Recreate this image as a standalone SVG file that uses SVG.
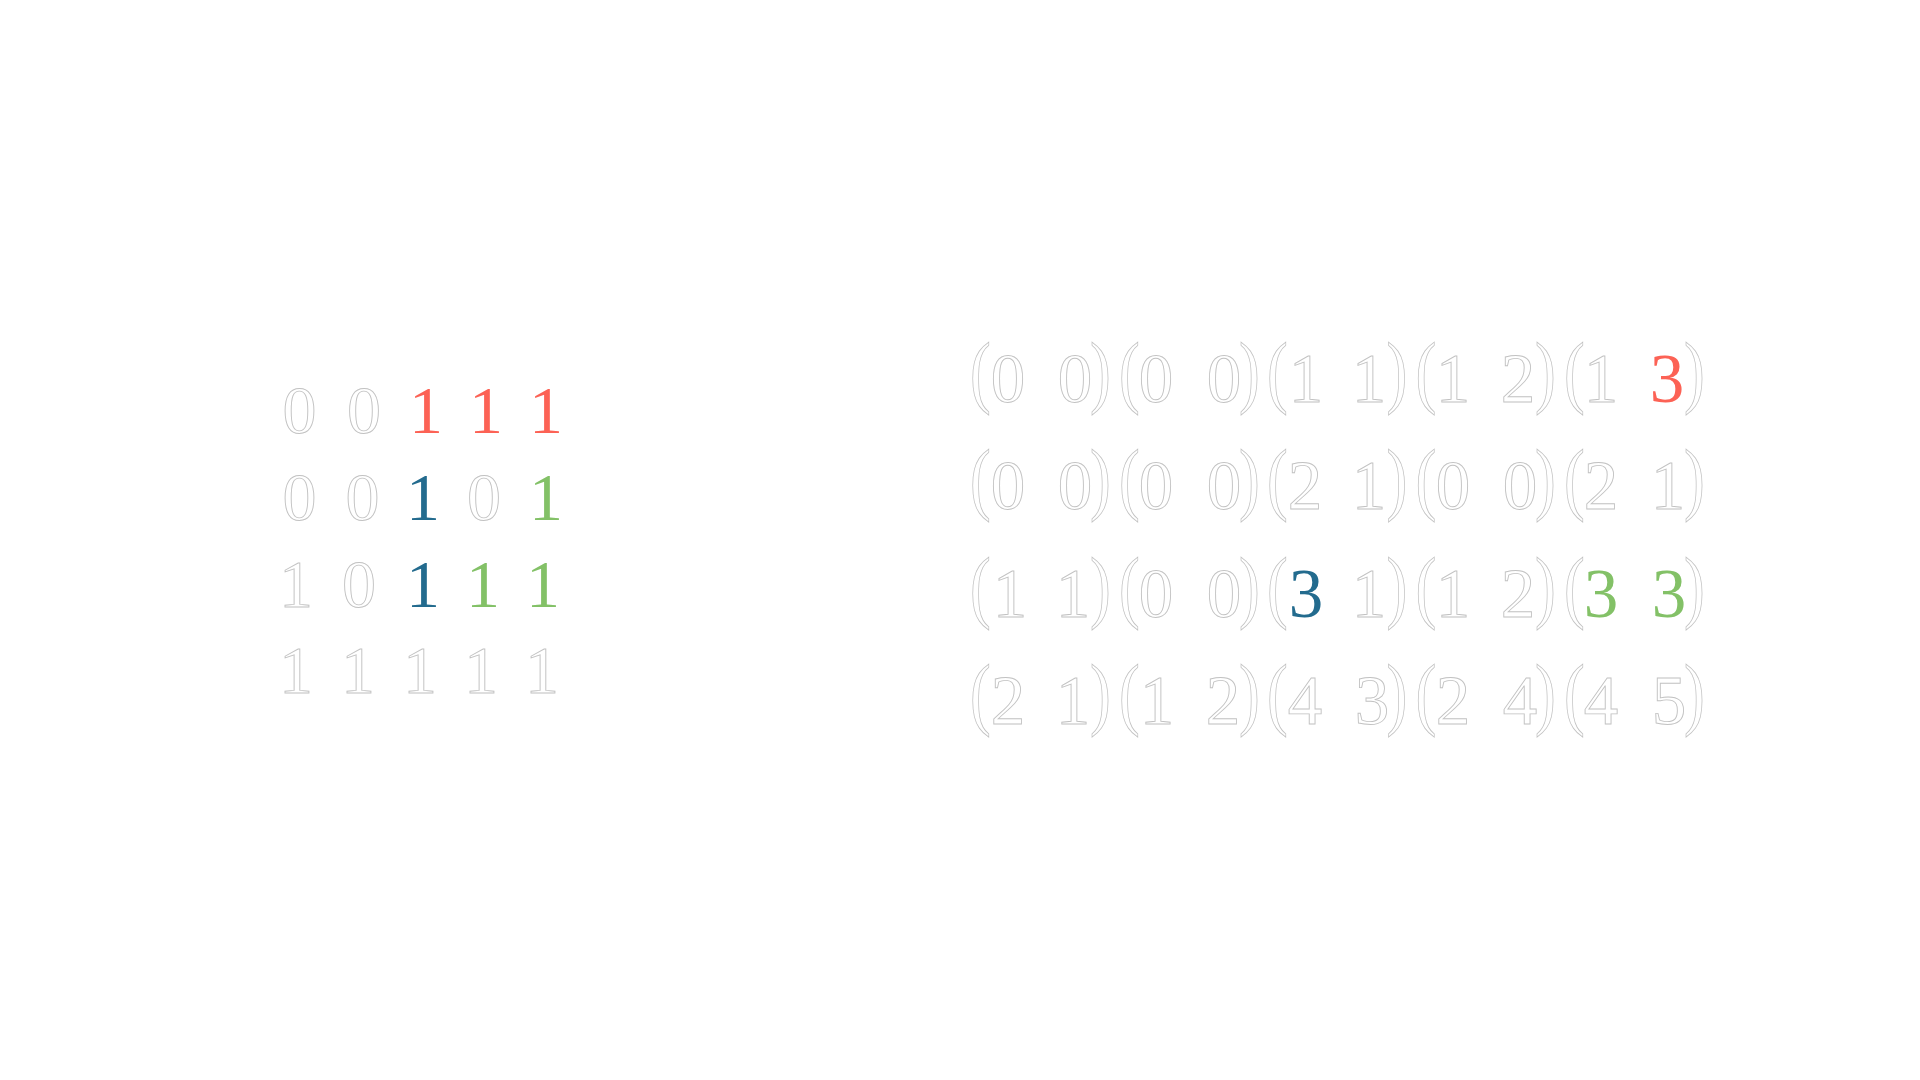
<svg xmlns="http://www.w3.org/2000/svg" width="1920" height="1080" viewBox="0 0 1920 1080">
<style>
text{font-family:"Liberation Serif","Times New Roman",serif;text-anchor:middle}
.l{font-size:68px}
.m{font-size:69px}
.p{font-size:80px}
.o{fill:#ffffff;stroke:#c2c2c2;stroke-width:0.9}
.r{fill:#FC6255}
.b{fill:#236B8E}
.g{fill:#83C167}
</style>
<rect width="1920" height="1080" fill="#ffffff"/>
<g id="left-matrix" class="l">
<g id="lrow1">
<text class="o" x="299.5" y="433">0</text><text class="o" x="364" y="433">0</text><text class="r" x="426" y="433">1</text><text class="r" x="486" y="433">1</text><text class="r" x="546" y="433">1</text>
</g>
<g id="lrow2">
<text class="o" x="299.5" y="520">0</text><text class="o" x="362.5" y="520">0</text><text class="b" x="423" y="520">1</text><text class="o" x="484" y="520">0</text><text class="g" x="546" y="520">1</text>
</g>
<g id="lrow3">
<text class="o" x="296" y="607">1</text><text class="o" x="359" y="607">0</text><text class="b" x="423" y="607">1</text><text class="g" x="483" y="607">1</text><text class="g" x="543" y="607">1</text>
</g>
<g id="lrow4">
<text class="o" x="296" y="693">1</text><text class="o" x="358" y="693">1</text><text class="o" x="420" y="693">1</text><text class="o" x="481" y="693">1</text><text class="o" x="542" y="693">1</text>
</g>
</g>
<g id="right-matrix">
<g id="rrow1">
<text class="o p" transform="translate(980.5,398) scale(0.78,1)">(</text><text class="o m" x="1008" y="402">0</text><text class="o m" x="1075" y="402">0</text><text class="o p" transform="translate(1100.5,398) scale(0.78,1)">)</text>
<text class="o p" transform="translate(1129.5,398) scale(0.78,1)">(</text><text class="o m" x="1156" y="402">0</text><text class="o m" x="1224" y="402">0</text><text class="o p" transform="translate(1249.5,398) scale(0.78,1)">)</text>
<text class="o p" transform="translate(1277.5,398) scale(0.78,1)">(</text><text class="o m" x="1306" y="402">1</text><text class="o m" x="1369" y="402">1</text><text class="o p" transform="translate(1397,398) scale(0.78,1)">)</text>
<text class="o p" transform="translate(1426,398) scale(0.78,1)">(</text><text class="o m" x="1453" y="402">1</text><text class="o m" x="1518" y="402">2</text><text class="o p" transform="translate(1545.5,398) scale(0.78,1)">)</text>
<text class="o p" transform="translate(1574.5,398) scale(0.78,1)">(</text><text class="o m" x="1601" y="402">1</text><text class="r m" x="1667" y="402">3</text><text class="o p" transform="translate(1694.5,398) scale(0.78,1)">)</text>
</g>
<g id="rrow2">
<text class="o p" transform="translate(980.5,505) scale(0.78,1)">(</text><text class="o m" x="1008" y="509">0</text><text class="o m" x="1075" y="509">0</text><text class="o p" transform="translate(1100.5,505) scale(0.78,1)">)</text>
<text class="o p" transform="translate(1129.5,505) scale(0.78,1)">(</text><text class="o m" x="1156" y="509">0</text><text class="o m" x="1224" y="509">0</text><text class="o p" transform="translate(1249.5,505) scale(0.78,1)">)</text>
<text class="o p" transform="translate(1277.5,505) scale(0.78,1)">(</text><text class="o m" x="1305" y="509">2</text><text class="o m" x="1369" y="509">1</text><text class="o p" transform="translate(1397,505) scale(0.78,1)">)</text>
<text class="o p" transform="translate(1426,505) scale(0.78,1)">(</text><text class="o m" x="1453" y="509">0</text><text class="o m" x="1520" y="509">0</text><text class="o p" transform="translate(1545.5,505) scale(0.78,1)">)</text>
<text class="o p" transform="translate(1574.5,505) scale(0.78,1)">(</text><text class="o m" x="1601" y="509">2</text><text class="o m" x="1668" y="509">1</text><text class="o p" transform="translate(1694.5,505) scale(0.78,1)">)</text>
</g>
<g id="rrow3">
<text class="o p" transform="translate(980.5,613) scale(0.78,1)">(</text><text class="o m" x="1010" y="617">1</text><text class="o m" x="1073" y="617">1</text><text class="o p" transform="translate(1100.5,613) scale(0.78,1)">)</text>
<text class="o p" transform="translate(1129.5,613) scale(0.78,1)">(</text><text class="o m" x="1156" y="617">0</text><text class="o m" x="1224" y="617">0</text><text class="o p" transform="translate(1249.5,613) scale(0.78,1)">)</text>
<text class="o p" transform="translate(1277.5,613) scale(0.78,1)">(</text><text class="b m" x="1306" y="617">3</text><text class="o m" x="1369" y="617">1</text><text class="o p" transform="translate(1397,613) scale(0.78,1)">)</text>
<text class="o p" transform="translate(1426,613) scale(0.78,1)">(</text><text class="o m" x="1453" y="617">1</text><text class="o m" x="1518" y="617">2</text><text class="o p" transform="translate(1545.5,613) scale(0.78,1)">)</text>
<text class="o p" transform="translate(1574.5,613) scale(0.78,1)">(</text><text class="g m" x="1601" y="617">3</text><text class="g m" x="1669" y="617">3</text><text class="o p" transform="translate(1694.5,613) scale(0.78,1)">)</text>
</g>
<g id="rrow4">
<text class="o p" transform="translate(980.5,720) scale(0.78,1)">(</text><text class="o m" x="1008" y="724">2</text><text class="o m" x="1073" y="724">1</text><text class="o p" transform="translate(1100.5,720) scale(0.78,1)">)</text>
<text class="o p" transform="translate(1129.5,720) scale(0.78,1)">(</text><text class="o m" x="1157" y="724">1</text><text class="o m" x="1223" y="724">2</text><text class="o p" transform="translate(1249.5,720) scale(0.78,1)">)</text>
<text class="o p" transform="translate(1277.5,720) scale(0.78,1)">(</text><text class="o m" x="1305" y="724">4</text><text class="o m" x="1372" y="724">3</text><text class="o p" transform="translate(1397,720) scale(0.78,1)">)</text>
<text class="o p" transform="translate(1426,720) scale(0.78,1)">(</text><text class="o m" x="1453" y="724">2</text><text class="o m" x="1520" y="724">4</text><text class="o p" transform="translate(1545.5,720) scale(0.78,1)">)</text>
<text class="o p" transform="translate(1574.5,720) scale(0.78,1)">(</text><text class="o m" x="1601" y="724">4</text><text class="o m" x="1669" y="724">5</text><text class="o p" transform="translate(1694.5,720) scale(0.78,1)">)</text>
</g>
</g>
</svg>
